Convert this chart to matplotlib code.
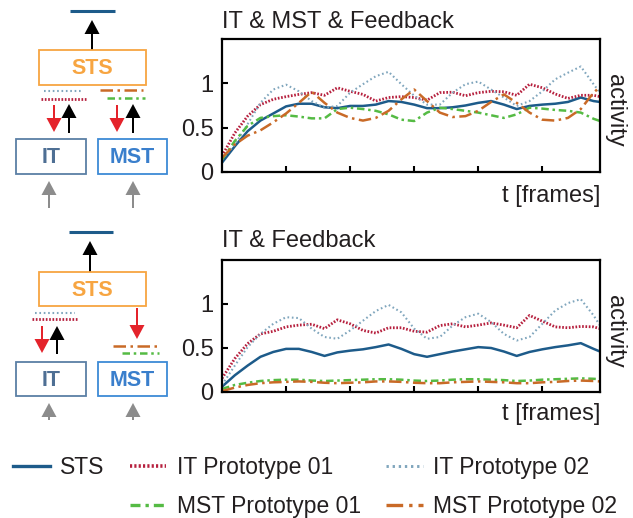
import matplotlib
matplotlib.use("Agg")
import matplotlib.pyplot as plt
from matplotlib.lines import Line2D
from matplotlib.patches import Rectangle

plt.rcParams['font.family'] = ['Liberation Sans', 'DejaVu Sans']

# frames sampled from the curves
frames = [0, 2, 4, 6, 8, 10, 12, 14, 16, 18, 20, 22, 24, 26, 28, 30,
          32, 34, 36, 38, 40, 42, 44, 46, 48, 50, 52, 54, 56, 58, 59]

# panel 1: IT & MST & Feedback
top_sts = [0.105, 0.29, 0.46, 0.58, 0.66, 0.74, 0.77, 0.77, 0.73, 0.72, 0.745,
           0.745, 0.76, 0.80, 0.79, 0.76, 0.72, 0.72, 0.73, 0.75, 0.78,
           0.80, 0.76, 0.71, 0.745, 0.76, 0.77, 0.79, 0.84, 0.80, 0.79]
top_it1 = [0.18, 0.44, 0.63, 0.76, 0.82, 0.85, 0.875, 0.895, 0.865, 0.95, 0.91,
           0.875, 0.80, 0.84, 0.85, 0.84, 0.81, 0.895, 0.90, 0.86, 0.895,
           0.91, 0.905, 0.865, 0.99, 0.95, 0.88, 0.83, 0.865, 0.865, 0.85]
top_it2 = [0.14, 0.31, 0.54, 0.78, 0.93, 0.985, 0.91, 0.80, 0.725, 0.745, 0.895,
           0.99, 1.08, 1.13, 0.99, 0.86, 0.76, 0.76, 0.895, 0.99, 1.02,
           0.93, 0.84, 0.745, 0.80, 0.91, 1.045, 1.12, 1.19, 0.99, 0.895]
top_mst1 = [0.14, 0.35, 0.52, 0.61, 0.63, 0.64, 0.625, 0.605, 0.605, 0.71, 0.725,
            0.71, 0.69, 0.65, 0.59, 0.575, 0.67, 0.725, 0.71, 0.69, 0.67,
            0.64, 0.61, 0.65, 0.725, 0.715, 0.70, 0.69, 0.67, 0.60, 0.575]
top_mst2 = [0.16, 0.31, 0.41, 0.47, 0.56, 0.66, 0.78, 0.905, 0.78, 0.67, 0.61,
            0.58, 0.61, 0.69, 0.82, 0.93, 0.80, 0.67, 0.62, 0.63, 0.69,
            0.79, 0.875, 0.78, 0.67, 0.59, 0.58, 0.61, 0.71, 0.895, 0.96]

# panel 2: IT & Feedback
bot_sts = [0.06, 0.19, 0.30, 0.40, 0.455, 0.49, 0.49, 0.455, 0.41, 0.45, 0.47,
           0.485, 0.51, 0.54, 0.49, 0.43, 0.40, 0.43, 0.46, 0.485, 0.51,
           0.50, 0.46, 0.41, 0.455, 0.485, 0.51, 0.53, 0.555, 0.49, 0.46]
bot_it1 = [0.155, 0.38, 0.55, 0.66, 0.69, 0.74, 0.76, 0.77, 0.72, 0.82, 0.775,
           0.70, 0.67, 0.73, 0.73, 0.69, 0.68, 0.755, 0.775, 0.74, 0.76,
           0.785, 0.76, 0.73, 0.87, 0.805, 0.74, 0.73, 0.745, 0.74, 0.72]
bot_it2 = [0.08, 0.30, 0.51, 0.66, 0.775, 0.85, 0.84, 0.72, 0.625, 0.605, 0.70,
           0.81, 0.92, 0.99, 0.905, 0.72, 0.605, 0.625, 0.755, 0.85, 0.89,
           0.795, 0.66, 0.585, 0.625, 0.775, 0.925, 1.01, 1.055, 0.87, 0.755]
bot_mst1 = [0.035, 0.08, 0.105, 0.125, 0.135, 0.14, 0.14, 0.13, 0.125, 0.13, 0.135,
            0.14, 0.145, 0.145, 0.14, 0.13, 0.125, 0.13, 0.14, 0.145, 0.145,
            0.14, 0.135, 0.125, 0.13, 0.14, 0.145, 0.15, 0.155, 0.15, 0.145]
bot_mst2 = [0.01, 0.05, 0.08, 0.10, 0.11, 0.115, 0.12, 0.115, 0.105, 0.10, 0.105,
            0.11, 0.12, 0.12, 0.115, 0.105, 0.10, 0.10, 0.11, 0.115, 0.12,
            0.115, 0.11, 0.10, 0.10, 0.11, 0.115, 0.125, 0.13, 0.125, 0.12]

labels = ["STS", "IT Prototype 01", "IT Prototype 02",
          "MST Prototype 01", "MST Prototype 02"]
titles = ["IT & MST & Feedback", "IT & Feedback"]

C_STS = '#1d5b8a'
C_IT1 = '#b6203e'
C_IT2 = '#80a6bd'
C_MST1 = '#55bb44'
C_MST2 = '#c96a27'
TXT = '#231f20'

styles = [
    dict(color=C_STS, lw=1.8, ls='-'),
    dict(color=C_IT1, lw=2.0, ls=(0, (0.6, 0.6))),
    dict(color=C_IT2, lw=1.5, ls=(0, (0.8, 1.3))),
    dict(color=C_MST1, lw=1.8, ls=(0, (3, 1.5, 1, 1.5))),
    dict(color=C_MST2, lw=1.8, ls=(0, (5, 1.8, 1, 1.8))),
]

W, H = 633, 518
fig = plt.figure(figsize=(W / 100, H / 100), dpi=100)

# canvas in pixel coordinates for the little network diagrams
cv = fig.add_axes([0, 0, 1, 1])
cv.set_xlim(0, W)
cv.set_ylim(H, 0)
cv.axis('off')


def box(x0, y0, x1, y1, color, text, tcolor):
    cv.add_patch(Rectangle((x0, y0), x1 - x0, y1 - y0, fill=False,
                           ec=color, lw=1.3))
    cv.text((x0 + x1) / 2, (y0 + y1) / 2 + 1, text, color=tcolor,
            fontsize=15.5, fontweight='bold', ha='center', va='center')


def arrow(x, y0, y1, color):
    # y0 = base, y1 = tip
    cv.arrow(x, y0, 0, y1 - y0, width=2.0, head_width=15, head_length=14,
             length_includes_head=True, fc=color, ec=color, lw=0)


def seg(x0, x1, y, st):
    cv.plot([x0, x1], [y, y], color=st['color'], lw=st['lw'], ls=st['ls'],
            solid_capstyle='butt', dash_capstyle='butt')


RED = '#e4232b'
GRAY = '#8c8c8c'

# diagram 1
seg(70, 115, 11, dict(color=C_STS, lw=2.2, ls='-'))
arrow(92, 50, 20, 'black')
box(39, 50, 146, 85, '#f7a541', 'STS', '#f7a541')
seg(44, 83, 91, styles[2])
seg(41, 86, 99, styles[1])
seg(100, 143, 90, styles[4])
seg(107, 145, 98, styles[3])
arrow(54, 105, 132, RED)
arrow(69, 133, 104, 'black')
arrow(117, 105, 132, RED)
arrow(133, 133, 104, 'black')
box(16, 139, 86, 174, '#5a7fa5', 'IT', '#4e6f94')
box(98, 139, 167, 174, '#3d8ad6', 'MST', '#3a7fcc')
arrow(49, 208, 181, GRAY)
arrow(133, 208, 181, GRAY)

# diagram 2
seg(69, 113, 232, dict(color=C_STS, lw=2.2, ls='-'))
arrow(90, 272, 241, 'black')
box(39, 272, 146, 306, '#f7a541', 'STS', '#f7a541')
seg(35, 75, 313, styles[2])
seg(32, 77, 319, styles[1])
arrow(42, 326, 353, RED)
arrow(57, 354, 326, 'black')
arrow(137, 308, 339, RED)
seg(113, 158, 346, styles[4])
seg(122, 159, 353, styles[3])
box(16, 362, 86, 396, '#5a7fa5', 'IT', '#4e6f94')
box(98, 362, 167, 396, '#3d8ad6', 'MST', '#3a7fcc')
arrow(49, 420, 403, GRAY)
arrow(133, 420, 403, GRAY)


def panel(rect, series, title, title_y, xlab_y):
    ax = fig.add_axes(rect)
    for ys, st in zip(series, styles):
        ax.plot(frames, ys, color=st['color'], lw=st['lw'], ls=st['ls'])
    ax.set_xlim(0, 59)
    ax.set_ylim(0, 1.5)
    ax.set_yticks([0, 0.5, 1])
    ax.set_yticklabels(['0', '0.5', '1'])
    ax.set_xticks([10, 20, 30, 40, 50])
    ax.set_xticklabels([])
    ax.tick_params(direction='in', length=4, width=1.5, labelsize=17,
                   pad=6, colors='black', labelcolor=TXT)
    for s in ax.spines.values():
        s.set_linewidth(1.6)
    ax.text(0, title_y, title, transform=ax.transAxes, fontsize=17,
            ha='left', va='center', color=TXT)
    ax.text(1.0, xlab_y, 't [frames]', transform=ax.transAxes, fontsize=17,
            ha='right', va='center', color=TXT)
    ax.text(1.01, 0.46, 'activity', transform=ax.transAxes, fontsize=17,
            rotation=270, ha='left', va='center', color=TXT)
    return ax


panel([222 / W, 1 - 172 / H, 378 / W, 133 / H],
      [top_sts, top_it1, top_it2, top_mst1, top_mst2],
      titles[0], 1.128, -0.18)
panel([222 / W, 1 - 392 / H, 378 / W, 132 / H],
      [bot_sts, bot_it1, bot_it2, bot_mst1, bot_mst2],
      titles[1], 1.144, -0.165)

# legend: column-major with an empty slot under STS
hs = [Line2D([], [], color=st['color'], lw=st['lw'] + 0.6, ls=st['ls'])
      for st in styles]
blank = Line2D([], [], alpha=0)
handles = [hs[0], blank, hs[1], hs[3], hs[2], hs[4]]
labs = [labels[0], '', labels[1], labels[3], labels[2], labels[4]]
fig.legend(handles, labs, ncol=3, loc='upper left',
           bbox_to_anchor=(13 / W, 1 - 456 / H), frameon=False,
           fontsize=16.5, handlelength=1.6, handletextpad=0.45,
           columnspacing=1.1, labelspacing=0.72, borderpad=0,
           borderaxespad=0, labelcolor=TXT)

fig.savefig('out.png', dpi=100)
